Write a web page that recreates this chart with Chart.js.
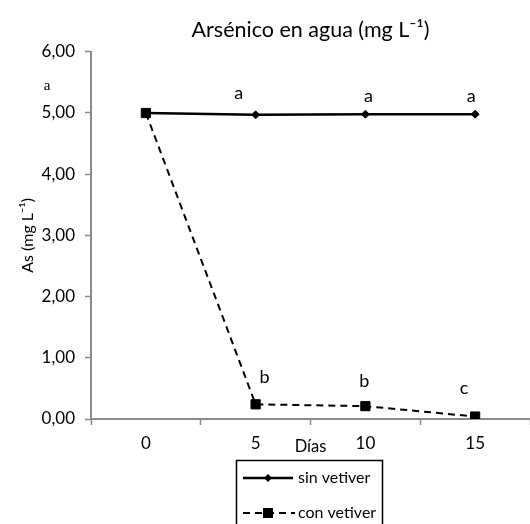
<!DOCTYPE html>
<html>
<head>
<meta charset="utf-8">
<script src="https://cdn.jsdelivr.net/npm/chart.js@4"></script>
<style>
  body { margin: 0; background: #fff; }
  #wrap { width: 530px; height: 524px; }
</style>
</head>
<body>
<div id="wrap"><canvas id="asChart" width="530" height="524"></canvas></div>
<script>
const dias = ['0', '5', '10', '15'];
const sinVetiver = [5.00, 4.97, 4.98, 4.98];
const conVetiver = [5.00, 0.24, 0.21, 0.04];
const sinLetras = ['', 'a', 'a', 'a'];
const conLetras = ['', 'b', 'b', 'c'];
const yTicks = [0, 1, 2, 3, 4, 5, 6];

const FONT = 'Lato, "Open Sans", sans-serif';
const AXIS_GREY = '#8a8a8a';

// desplazamiento de las letras respecto al punto (px)
const sinOffsets = [null, [-17, -22], [3, -18], [-4, -18]];
const conOffsets = [null, [9, -27], [-1, -25], [-11, -28]];

const fmt = v => v.toFixed(2).replace('.', ',');

const extrasPlugin = {
    id: 'extras',
    afterDatasetsDraw(chart) {
        const c = chart.ctx;
        const metaSin = chart.getDatasetMeta(0);
        const metaCon = chart.getDatasetMeta(1);
        c.save();
        c.fillStyle = '#000';
        c.font = '18px ' + FONT;
        c.textAlign = 'center';
        c.textBaseline = 'middle';
        sinLetras.forEach((t, i) => {
            if (!t) return;
            const p = metaSin.data[i];
            c.fillText(t, p.x + sinOffsets[i][0], p.y + sinOffsets[i][1]);
        });
        conLetras.forEach((t, i) => {
            if (!t) return;
            const p = metaCon.data[i];
            c.fillText(t, p.x + conOffsets[i][0], p.y + conOffsets[i][1]);
        });

        // letra suelta a la izquierda
        c.font = '15px "Liberation Serif", serif';
        c.fillText('a', 47, 86);

        // leyenda con marco
        c.strokeStyle = '#000';
        c.lineWidth = 1.5;
        c.strokeRect(236.5, 460.5, 146, 80);

        c.font = '16px ' + FONT;
        c.textAlign = 'left';
        // sin vetiver
        c.lineWidth = 2.5;
        c.setLineDash([]);
        c.beginPath();
        c.moveTo(243, 478);
        c.lineTo(293, 478);
        c.stroke();
        c.beginPath();
        c.moveTo(268, 474); c.lineTo(272, 478); c.lineTo(268, 482); c.lineTo(264, 478);
        c.closePath();
        c.fill();
        c.fillText(chart.data.datasets[0].label, 298, 478);
        // con vetiver
        c.lineWidth = 2;
        c.setLineDash([7, 5]);
        c.beginPath();
        c.moveTo(243, 513);
        c.lineTo(295, 513);
        c.stroke();
        c.setLineDash([]);
        c.fillRect(263, 508, 10, 10);
        c.fillText(chart.data.datasets[1].label, 298, 513);
        c.restore();
    }
};

new Chart(document.getElementById('asChart'), {
    type: 'line',
    data: {
        labels: dias,
        datasets: [
            {
                label: 'sin vetiver',
                data: sinVetiver,
                borderColor: '#000',
                backgroundColor: '#000',
                borderWidth: 2.5,
                pointStyle: 'rectRot',
                pointRadius: 4,
                pointBorderWidth: 1,
                tension: 0,
                order: 1
            },
            {
                label: 'con vetiver',
                data: conVetiver,
                borderColor: '#000',
                backgroundColor: '#000',
                borderWidth: 2,
                borderDash: [7, 5],
                pointStyle: 'rect',
                pointRadius: 6.5,
                pointBorderWidth: 1,
                tension: 0,
                order: 0
            }
        ]
    },
    options: {
        responsive: false,
        animation: false,
        layout: { padding: 0, autoPadding: false },
        plugins: {
            legend: { display: false },
            tooltip: { enabled: false },
            title: {
                display: true,
                fullSize: false,
                text: 'Arsénico en agua (mg L⁻¹)',
                color: '#000',
                font: { family: FONT, size: 21.5, weight: 'normal', lineHeight: 1.2 },
                padding: { top: 17, bottom: 9 }
            }
        },
        scales: {
            x: {
                offset: true,
                grid: {
                    offset: true,
                    drawOnChartArea: false,
                    drawTicks: true,
                    tickLength: 6,
                    tickColor: AXIS_GREY,
                    tickWidth: 1.5
                },
                border: { color: AXIS_GREY, width: 2 },
                ticks: {
                    color: '#000',
                    padding: 8,
                    font: { family: FONT, size: 17 },
                    maxRotation: 0
                },
                title: {
                    display: true,
                    text: 'Días',
                    color: '#000',
                    font: { family: FONT, size: 16.5, lineHeight: 1.2 },
                    padding: { top: 0, bottom: 67 }
                },
                afterFit: s => {
                    s.height = 105;
                    s.paddingLeft = 0;
                    s.paddingRight = 0;
                }
            },
            y: {
                min: 0,
                max: 6,
                afterBuildTicks: s => { s.ticks = yTicks.map(v => ({ value: v })); },
                grid: {
                    drawOnChartArea: false,
                    drawTicks: true,
                    tickLength: 6,
                    tickColor: AXIS_GREY,
                    tickWidth: 1.5
                },
                border: { color: AXIS_GREY, width: 2 },
                ticks: {
                    color: '#000',
                    padding: 10,
                    font: { family: FONT, size: 17 },
                    callback: v => fmt(v)
                },
                title: {
                    display: true,
                    text: 'As (mg L⁻¹)',
                    color: '#000',
                    font: { family: FONT, size: 16, lineHeight: 1.2 },
                    padding: { top: 18, bottom: 0 }
                },
                afterFit: s => { s.width = 91; }
            }
        }
    },
    plugins: [extrasPlugin]
});
</script>
</body>
</html>
